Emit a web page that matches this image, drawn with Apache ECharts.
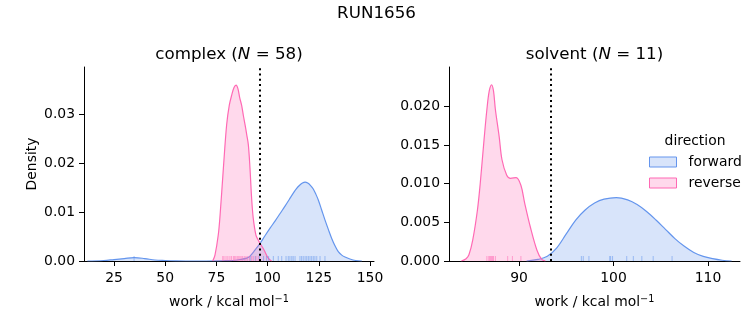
<!DOCTYPE html>
<html><head><meta charset="utf-8">
<script src="https://cdn.jsdelivr.net/npm/echarts@6/dist/echarts.min.js"></script>
<style>html,body{margin:0;padding:0;background:#fff}#c{width:753px;height:325px}</style>
</head><body><div id="c"></div>
<script>
// ---- data ----
const suptitle = 'RUN1656';
const phases = ['complex', 'solvent'];
const phaseN = [58, 11];
const directions = ['forward', 'reverse'];

// KDE curves: [work, density]
const complexForwardKde = [[12,0],[20,0.0001],[25,0.0003],[30,0.0005],[34.8,0.0007],[40,0.0005],[45,0.0002],[50,0.0001],[55,0.00003],[60,0],[70,0],[78,0.00005],[83,0.0001],[86.5,0.0003],[89.8,0.0006],[91.4,0.0010],[93.8,0.0022],[96.3,0.0036],[98.8,0.0052],[101.2,0.0067],[103.7,0.0082],[106.1,0.0097],[108.5,0.0112],[110.5,0.0125],[112.3,0.0137],[114,0.0147],[115.5,0.0154],[117,0.0159],[118.3,0.0161],[119.6,0.0159],[121,0.0154],[122.3,0.0147],[123.6,0.0136],[124.8,0.0124],[126.4,0.0104],[128,0.0084],[129.7,0.0064],[131.3,0.0046],[132.9,0.0031],[134.5,0.0019],[136.2,0.0012],[137.8,0.0008],[140.2,0.0004],[143,0.0001],[146,0]];
const complexReverseKde = [[73.2,0],[74.3,0.0012],[75.9,0.0053],[76.8,0.0094],[78.4,0.0189],[80.0,0.0278],[81.3,0.0318],[82.5,0.0339],[83.6,0.0354],[84.6,0.0359],[85.5,0.0352],[86.4,0.0333],[87.3,0.0318],[88.2,0.0296],[89.0,0.0278],[89.8,0.0258],[90.6,0.0237],[91.4,0.0189],[92.2,0.0128],[93.0,0.0087],[94.3,0.0053],[95.5,0.0042],[96.3,0.0036],[97.5,0.0028],[98.7,0.0019],[100,0.0008],[101.2,0.0002],[102,0]];
const solventForwardKde = [[90.8,0],[92,0.0002],[93,0.0006],[94,0.0017],[95,0.0035],[96,0.0053],[97,0.0066],[98,0.0075],[99,0.0080],[100.3,0.0082],[101.5,0.0079],[102.5,0.0073],[103.5,0.0064],[104.5,0.0053],[105.5,0.0041],[106.5,0.0029],[107.5,0.0019],[108.5,0.0011],[109.5,0.0006],[110.5,0.0003],[111.5,0.0001],[112.5,0]];
const solventReverseKde = [[83.9,0],[84.4,0.0003],[84.7,0.0008],[85.1,0.0027],[85.6,0.0066],[85.9,0.0101],[86.3,0.0157],[86.6,0.0196],[86.85,0.0220],[87.1,0.0228],[87.3,0.0220],[87.5,0.0196],[87.9,0.0161],[88.2,0.0131],[88.7,0.0111],[89.1,0.0107],[89.7,0.0108],[90.2,0.0098],[90.6,0.0075],[91.2,0.0044],[91.9,0.0014],[92.4,0.0002],[92.8,0]];

// rug (individual work values)
const complexForwardWork = [34.8,91.5,94.0,96.0,98.0,99.5,100.5,102.8,105.2,106.9,109.0,110.1,110.9,111.8,112.5,113.4,115.8,116.6,117.4,118.3,119.1,119.9,120.7,121.5,122.3,123.1,124.0,125.6,128.0];
const complexReverseWork = [78.1,78.7,79.7,80.6,81.6,82.4,83.3,83.9,84.5,85.2,85.9,86.5,87.1,87.8,88.6,89.4,90.1,91.1,92.2,93.0,94.3,95.4];
const solventForwardWork = [96.6,96.8,97.4,99.6,99.7,99.9,101.4,102.1,103.0,104.2,106.2];
const solventReverseWork = [86.6,86.8,86.9,87.0,87.1,87.2,87.3,87.5,88.8,89.3,90.2];

// dotted reference lines
const refWork = [96.3, 93.4];

// axes
const xRanges = [[10.35, 151.95], [82.59, 113.39]];
const xTicks = [[25, 50, 75, 100, 125, 150], [90, 100, 110]];
const yMax = [0.0396, 0.0251];
const yTicks = [[0, 0.01, 0.02, 0.03], [0, 0.005, 0.010, 0.015, 0.020]];
const yDecimals = [2, 3];

// ---- chart ----
const FONT = 'DejaVu Sans';
const BLUE = '#6495ED', PINK = '#FF69B4';
const grids = [
  {left: 84, right: 379, top: 67, bottom: 64},
  {left: 449, right: 13, top: 67, bottom: 64}
];
const kdes = [[complexForwardKde, complexReverseKde], [solventForwardKde, solventReverseKde]];
const rugs = [[complexForwardWork, complexReverseWork], [solventForwardWork, solventReverseWork]];
const colors = [BLUE, PINK];

const xAxes = [0, 1].map(i => ({
  type: 'value', gridIndex: i, min: xRanges[i][0], max: xRanges[i][1],
  axisLine: {show: true, onZero: false, lineStyle: {color: '#000', width: 1}},
  axisTick: {show: true, length: 5, customValues: xTicks[i], lineStyle: {color: '#000', width: 1}},
  axisLabel: {customValues: xTicks[i], color: '#000', fontSize: 13.9, fontFamily: FONT, margin: 10},
  splitLine: {show: false},
  name: 'work / kcal mol{sup|\u22121}', nameLocation: 'middle', nameGap: 33,
  nameTextStyle: {color: '#000', fontSize: 13.9, fontFamily: FONT,
    rich: {sup: {fontSize: 9.7, fontFamily: FONT, color: '#000', verticalAlign: 'top', padding: [0, 0, 7, 0]}}}
}));
const yAxes = [0, 1].map(i => ({
  type: 'value', gridIndex: i, min: 0, max: yMax[i],
  axisLine: {show: true, onZero: false, lineStyle: {color: '#000', width: 1}},
  axisTick: {show: true, length: 5, customValues: yTicks[i], lineStyle: {color: '#000', width: 1}},
  axisLabel: {customValues: yTicks[i], color: '#000', fontSize: 13.9, fontFamily: FONT, margin: 9,
    formatter: v => v.toFixed(yDecimals[i])},
  splitLine: {show: false},
  name: i === 0 ? 'Density' : '', nameLocation: 'middle', nameGap: 45,
  nameTextStyle: {color: '#000', fontSize: 13.9, fontFamily: FONT}
}));

const series = [];
for (let i = 0; i < 2; i++) {
  for (let d = 0; d < 2; d++) {
    const s = {
      type: 'line', name: directions[d], xAxisIndex: i, yAxisIndex: i,
      data: kdes[i][d], showSymbol: false, symbol: 'none', smooth: 0.35,
      color: colors[d],
      lineStyle: {color: colors[d], width: 1.2},
      areaStyle: {color: colors[d], opacity: 0.25},
      z: 2 + d
    };
    if (d === 1) {
      s.markLine = {
        silent: true, symbol: ['none', 'none'], label: {show: false},
        lineStyle: {color: '#000', type: [2, 3.3], width: 2},
        data: [{xAxis: refWork[i]}], z: 10
      };
    }
    series.push(s);
    series.push({
      type: 'scatter', name: directions[d] + '-rug', xAxisIndex: i, yAxisIndex: i,
      data: rugs[i][d].map(v => [v, 0]),
      symbol: 'rect', symbolSize: [1, 5], symbolOffset: [0, -2.5],
      itemStyle: {color: colors[d], opacity: 0.55}, z: 4
    });
  }
}

const titleText = (i) => '{a|' + phases[i] + ' (}{i|N}{a| = ' + phaseN[i] + ')}';
const titleRich = {
  a: {fontSize: 16.7, fontFamily: FONT, color: '#000'},
  i: {fontSize: 16.7, fontFamily: FONT, color: '#000', fontStyle: 'italic'}
};

const option = {
  animation: false,
  backgroundColor: '#fff',
  grid: grids,
  xAxis: xAxes,
  yAxis: yAxes,
  series: series,
  legend: {
    data: directions.map((d, k) => ({name: d, icon: 'rect',
      itemStyle: {color: k === 0 ? 'rgba(100,149,237,0.25)' : 'rgba(255,105,180,0.25)', borderColor: colors[k], borderWidth: 1}})),
    orient: 'vertical', left: 649, top: 155, itemWidth: 27, itemHeight: 10, itemGap: 7,
    padding: 0, selectedMode: false,
    formatter: n => '{t|' + n + '}',
    textStyle: {color: '#000', fontSize: 13.9, fontFamily: FONT,
      rich: {t: {color: '#000', fontSize: 13.9, fontFamily: FONT, padding: [0, 0, 0, 7]}}}
  },
  graphic: [
    {type: 'text', x: 376.5, y: 14, silent: true,
      style: {text: suptitle, fill: '#000', font: '16.7px "' + FONT + '"', textAlign: 'center', textVerticalAlign: 'middle'}},
    {type: 'text', x: 229, y: 55, silent: true,
      style: {text: titleText(0), rich: titleRich, fill: '#000', fontSize: 16.7, fontFamily: FONT, textAlign: 'center', textVerticalAlign: 'middle'}},
    {type: 'text', x: 594.5, y: 55, silent: true,
      style: {text: titleText(1), rich: titleRich, fill: '#000', fontSize: 16.7, fontFamily: FONT, textAlign: 'center', textVerticalAlign: 'middle'}},
    {type: 'text', x: 695, y: 141, silent: true,
      style: {text: 'direction', fill: '#000', font: '13.9px "' + FONT + '"', textAlign: 'center', textVerticalAlign: 'middle'}}
  ]
};
const chart = echarts.init(document.getElementById('c'));
chart.setOption(option);
</script>
</body></html>
